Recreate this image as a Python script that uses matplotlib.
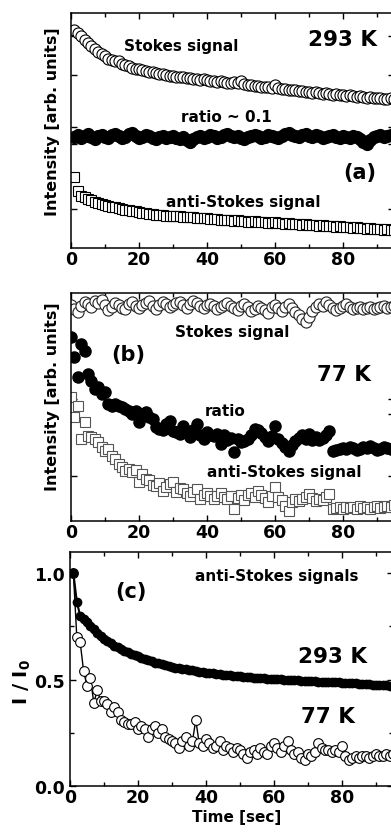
import numpy as np
import matplotlib
matplotlib.use("Agg")
import matplotlib.pyplot as plt
from matplotlib.ticker import MultipleLocator

plt.rcParams["font.family"] = ["DejaVu Sans"]
plt.rcParams["font.weight"] = "bold"
plt.rcParams["mathtext.fontset"] = "custom"
plt.rcParams["mathtext.rm"] = "DejaVu Sans:bold"
plt.rcParams["mathtext.bf"] = "DejaVu Sans:bold"

# ---- panel (a): 293 K, arbitrary units, one point per second from t = 1 s
stokes_a = [218, 215, 212, 208, 205, 202, 199, 196, 194, 192,
            189, 188, 187, 187, 184, 183, 182, 180, 179, 179,
            178, 177, 176, 176, 175, 174, 174, 173, 172, 172,
            171, 171, 171, 170, 170, 169, 169, 168, 169, 168,
            167, 167, 166, 167, 166, 165, 165, 166, 165, 167,
            164, 163, 163, 162, 162, 161, 161, 161, 160, 163,
            160, 159, 159, 158, 158, 158, 157, 157, 156, 156,
            155, 156, 155, 154, 155, 154, 153, 154, 153, 153,
            152, 153, 152, 151, 152, 151, 150, 151, 150, 150,
            150, 149, 149, 150, 149]
ratio_a = [111, 113, 110, 112, 114, 111, 109, 112, 113, 111,
           110, 113, 114, 112, 110, 111, 114, 115, 112, 110,
           111, 113, 112, 110, 109, 111, 112, 110, 111, 112,
           110, 109, 111, 108, 106, 109, 111, 112, 110, 111,
           113, 112, 110, 111, 113, 114, 112, 111, 112, 110,
           109, 111, 112, 113, 112, 110, 111, 113, 112, 111,
           110, 112, 114, 115, 113, 112, 111, 113, 114, 112,
           111, 113, 112, 110, 111, 112, 113, 111, 110, 112,
           111, 110, 112, 111, 109, 106, 104, 108, 111, 112,
           113, 111, 112, 113, 114]
antistokes_a = [71, 57, 52, 51, 49, 48, 46, 45, 44, 43,
                42, 41, 41, 40, 39, 38, 38, 37, 37, 36,
                35, 35, 34, 34, 33, 33, 33, 32, 32, 32,
                32, 32, 31, 31, 31, 31, 30, 30, 30, 30,
                29, 29, 29, 28, 28, 28, 28, 27, 28, 27,
                27, 26, 26, 27, 26, 26, 26, 25, 25, 26,
                25, 25, 24, 25, 24, 24, 24, 23, 24, 23,
                23, 23, 22, 23, 22, 22, 22, 21, 22, 21,
                21, 21, 20, 21, 20, 20, 19, 20, 19, 19,
                19, 18, 19, 18, 18]

# ---- panel (b): 77 K, arbitrary units, one point per second from t = 0 s
stokes_b = [216, 212, 209, 215, 219, 217, 214, 220, 218, 221,
            216, 211, 214, 218, 216, 213, 212, 217, 219, 215,
            213, 216, 218, 220, 215, 212, 216, 219, 217, 214,
            216, 218, 219, 216, 213, 217, 220, 218, 215, 213,
            216, 217, 215, 212, 214, 216, 218, 215, 213, 211,
            215, 217, 214, 210, 212, 215, 213, 211, 208, 214,
            216, 213, 210, 214, 217, 213, 209, 206, 202, 199,
            204, 210, 214, 217, 215, 219, 216, 213, 211, 213,
            215, 217, 214, 212, 213, 214, 212, 213, 214, 212,
            213, 214, 215, 213, 214, 215]
ratio_b = [184, 164, 144, 177, 170, 147, 140, 132, 134, 127,
           129, 117, 115, 117, 115, 114, 112, 110, 107, 110,
           99, 106, 109, 104, 102, 94, 92, 91, 97, 100,
           90, 89, 87, 95, 89, 84, 91, 97, 86, 82,
           89, 86, 85, 87, 77, 86, 81, 83, 69, 82,
           79, 80, 82, 86, 92, 91, 88, 84, 80, 85,
           95, 82, 78, 74, 70, 76, 80, 83, 86, 82,
           87, 81, 84, 81, 83, 86, 90, 70, 71, 72,
           73, 72, 74, 73, 71, 72, 74, 73, 75, 73,
           71, 72, 74, 73, 72, 71]
antistokes_b = [124, 104, 115, 82, 99, 85, 84, 82, 79, 74,
                70, 72, 65, 62, 57, 54, 50, 52, 49, 51,
                39, 47, 42, 41, 36, 35, 38, 30, 34, 37,
                39, 29, 33, 32, 28, 25, 29, 32, 22, 26,
                28, 25, 22, 25, 28, 24, 22, 25, 12, 23,
                26, 21, 26, 28, 24, 30, 26, 23, 19, 25,
                34, 24, 21, 15, 10, 19, 22, 20, 22, 24,
                27, 23, 20, 22, 21, 24, 27, 12, 13, 14,
                12, 14, 13, 14, 12, 15, 13, 14, 12, 14,
                15, 13, 14, 15, 14, 16]

# ---- panel (c): normalised anti-Stokes signals, from t = 1 s
hot_c = [1.0, 0.866, 0.80, 0.785, 0.77, 0.752, 0.737, 0.72, 0.705, 0.69,
         0.68, 0.67, 0.66, 0.655, 0.645, 0.636, 0.63, 0.622, 0.615, 0.61,
         0.603, 0.597, 0.59, 0.586, 0.58, 0.577, 0.572, 0.568, 0.565, 0.561,
         0.557, 0.554, 0.551, 0.548, 0.545, 0.543, 0.54, 0.538, 0.535, 0.533,
         0.531, 0.529, 0.527, 0.525, 0.523, 0.521, 0.52, 0.518, 0.517, 0.515,
         0.514, 0.512, 0.511, 0.51, 0.508, 0.507, 0.506, 0.505, 0.504, 0.503,
         0.502, 0.501, 0.5, 0.499, 0.498, 0.497, 0.496, 0.495, 0.495, 0.494,
         0.493, 0.492, 0.491, 0.49, 0.49, 0.489, 0.488, 0.487, 0.487, 0.486,
         0.485, 0.484, 0.483, 0.482, 0.481, 0.48, 0.479, 0.478, 0.477, 0.476,
         0.475, 0.474, 0.473, 0.472, 0.471]
cold_c = [1.0, 0.70, 0.675, 0.54, 0.47, 0.51, 0.39, 0.45, 0.40, 0.40,
          0.385, 0.35, 0.37, 0.35, 0.31, 0.30, 0.29, 0.29, 0.30, 0.27,
          0.28, 0.27, 0.23, 0.27, 0.28, 0.25, 0.27, 0.23, 0.22, 0.21,
          0.20, 0.18, 0.21, 0.23, 0.19, 0.21, 0.31, 0.20, 0.19, 0.22,
          0.20, 0.18, 0.19, 0.21, 0.17, 0.19, 0.18, 0.16, 0.18, 0.17,
          0.15, 0.13, 0.16, 0.17, 0.15, 0.18, 0.16, 0.15, 0.19, 0.20,
          0.18, 0.16, 0.19, 0.21, 0.17, 0.15, 0.16, 0.13, 0.12, 0.15,
          0.14, 0.16, 0.20, 0.18, 0.17, 0.17, 0.16, 0.17, 0.16, 0.19,
          0.14, 0.12, 0.13, 0.14, 0.13, 0.14, 0.14, 0.13, 0.14, 0.15,
          0.14, 0.14, 0.15, 0.14, 0.15]

t_a = np.arange(1, len(stokes_a) + 1)
t_b = np.arange(0, len(stokes_b))
t_c = np.arange(1, len(hot_c) + 1)

W, H = 391, 837
fig = plt.figure(figsize=(W / 100, H / 100), dpi=100)


def add_ax(left, top, right, bottom):
    return fig.add_axes([left / W, 1 - bottom / H, (right - left) / W, (bottom - top) / H])


def style(ax):
    ax.set_xlim(0, 95)
    ax.xaxis.set_major_locator(MultipleLocator(20))
    ax.xaxis.set_minor_locator(MultipleLocator(10))
    ax.tick_params(which="both", direction="in", top=True, right=True,
                   labelsize=12.5, width=1)
    ax.tick_params(axis="x", pad=1.5)
    ax.tick_params(axis="y", pad=4)
    ax.tick_params(which="major", length=4)
    ax.tick_params(which="minor", length=3)
    for s in ax.spines.values():
        s.set_linewidth(1.1)


def label(x, y, s, size):
    fig.text(x / W, 1 - y / H, s, ha="center", va="center", fontsize=size, fontweight="bold")


# (a)
ax = add_ax(71, 14, 394, 249)
ax.plot(t_a, stokes_a, "o", ms=8, mfc="white", mec="black", mew=0.8)
ax.plot(t_a, ratio_a, "o", ms=8.5, color="black")
ax.plot(t_a, antistokes_a, "s", ms=6.5, mfc="white", mec="black", mew=0.8)
ax.set_ylim(0, 235)
ax.set_yticks([39, 104, 121, 173, 212])
ax.set_yticklabels([])
style(ax)
ax.set_ylabel("Intensity [arb. units]", fontsize=11.5, fontweight="bold")
ax.yaxis.set_label_coords(-0.034, 0.54)
label(181, 47, "Stokes signal", 11)
label(342, 40, "293 K", 15.5)
label(226, 118, "ratio ~ 0.1", 11)
label(360, 173, "(a)", 15)
label(243, 202, "anti-Stokes signal", 11)

# (b)
ax = add_ax(71, 294, 394, 522)
ax.plot(t_b, stokes_b, "o", ms=8, mfc="white", mec="#222222", mew=0.8)
ax.plot(t_b, antistokes_b, "s", ms=7, mfc="white", mec="#555555", mew=0.8)
ax.plot(t_b, ratio_b, "o", ms=8, color="black")
ax.set_ylim(0, 228)
ax.set_yticks([45, 107, 122, 212])
ax.set_yticklabels([])
style(ax)
ax.set_ylabel("Intensity [arb. units]", fontsize=11.5, fontweight="bold")
ax.yaxis.set_label_coords(-0.034, 0.55)
label(232, 332, "Stokes signal", 11)
label(128, 355, "(b)", 15)
label(344, 375, "77 K", 15.5)
label(225, 412, "ratio", 11)
label(284, 473, "anti-Stokes signal", 11)

# (c)
ax = add_ax(70, 553, 393, 787)
ax.plot(t_c, cold_c, "-o", color="black", lw=1, ms=7, mfc="white", mec="black", mew=0.8)
ax.plot(t_c, hot_c, "-o", color="black", lw=1.5, ms=6)
ax.set_ylim(0, 1.1)
ax.yaxis.set_major_locator(MultipleLocator(0.5))
ax.yaxis.set_minor_locator(MultipleLocator(0.25))
ax.yaxis.set_major_formatter(plt.FormatStrFormatter("%.1f"))
style(ax)
ax.set_ylabel(r"I / I$_0$", fontsize=14, fontweight="bold")
ax.yaxis.set_label_coords(-0.115, 0.45)
ax.set_xlabel("Time [sec]", fontsize=11, fontweight="bold")
ax.xaxis.set_label_coords(0.517, -0.097)
label(131, 592, "(c)", 15)
label(277, 577, "anti-Stokes signals", 11)
label(333, 657, "293 K", 15.5)
label(328, 717, "77 K", 15.5)

fig.savefig("out.png", dpi=100)
